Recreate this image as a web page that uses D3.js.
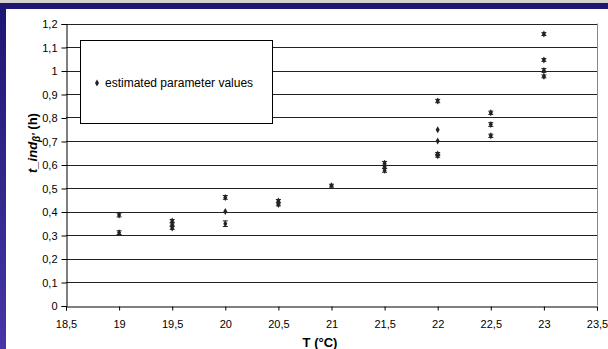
<!DOCTYPE html>
<html>
<head>
<meta charset="utf-8">
<script src="https://cdn.jsdelivr.net/npm/d3@7"></script>
<style>
  html, body { margin: 0; padding: 0; background: #fff; }
  svg { display: block; font-family: "Liberation Sans", Arial, sans-serif; }
</style>
</head>
<body>
<svg id="chart" width="608" height="349"></svg>
<script>
// temperatures (°C) of each estimate
var temps = [19, 19, 19.5, 19.5, 19.5, 20, 20, 20, 20.5, 20.5, 21,
  21.5, 21.5, 21.5, 22, 22, 22, 22, 22, 22.5, 22.5, 22.5, 23, 23, 23, 23];
// estimated t_ind values (h)
var estimates = [0.385, 0.31, 0.36, 0.345, 0.33, 0.46, 0.40, 0.348, 0.445, 0.43, 0.51,
  0.605, 0.59, 0.575, 0.87, 0.748, 0.70, 0.645, 0.637, 0.82, 0.77, 0.722, 1.155, 1.045, 1.0, 0.975];
// half width of the error bars
var errors = [0.008, 0.008, 0.006, 0.006, 0.006, 0.008, 0, 0.012, 0.006, 0.006, 0.006,
  0.008, 0.006, 0.008, 0.007, 0, 0, 0.006, 0.006, 0.007, 0.008, 0.007, 0.006, 0.006, 0.008, 0.006];

var xTicks = [18.5, 19, 19.5, 20, 20.5, 21, 21.5, 22, 22.5, 23, 23.5];
var yTicks = [0, 0.1, 0.2, 0.3, 0.4, 0.5, 0.6, 0.7, 0.8, 0.9, 1, 1.1, 1.2];

var svg = d3.select("#chart");
var comma = function (v) { return String(v).replace(".", ","); };

// slide frame: grey strip, blue bar and left blue edge
var defs = svg.append("defs");
var grad = defs.append("linearGradient").attr("id", "blue").attr("x1", 0).attr("y1", 0).attr("x2", 0).attr("y2", 1);
grad.append("stop").attr("offset", "0%").attr("stop-color", "#1d1672");
grad.append("stop").attr("offset", "100%").attr("stop-color", "#4636a6");
svg.append("rect").attr("x", 0).attr("y", 0).attr("width", 608).attr("height", 349).attr("fill", "url(#blue)");
svg.append("rect").attr("x", 0).attr("y", 0).attr("width", 608).attr("height", 3).attr("fill", "#d6d3ce");
svg.append("rect").attr("x", 6).attr("y", 9).attr("width", 602).attr("height", 340).attr("fill", "#fff");

var x = d3.scaleLinear().domain([18.5, 23.5]).range([66, 597]);
var y = d3.scaleLinear().domain([0, 1.2]).range([305.5, 23.5]);

// grid
svg.append("g")
  .selectAll("line")
  .data(yTicks.slice(1))
  .enter()
  .append("line")
  .attr("x1", x(18.5)).attr("x2", x(23.5))
  .attr("y1", function (d) { return Math.round(y(d)) + 0.5; })
  .attr("y2", function (d) { return Math.round(y(d)) + 0.5; })
  .attr("stroke", "#222")
  .attr("stroke-width", 1);

// right border of plot area
svg.append("line")
  .attr("x1", x(23.5) + 0.5).attr("x2", x(23.5) + 0.5)
  .attr("y1", y(1.2)).attr("y2", y(0))
  .attr("stroke", "#888");

// axes
var yAxis = d3.axisLeft(y).tickValues(yTicks).tickFormat(comma).tickSize(5).tickPadding(4);
var gy = svg.append("g").attr("transform", "translate(" + (x(18.5) + 0.5) + ",0.5)").call(yAxis);
var xAxis = d3.axisBottom(x).tickValues(xTicks).tickFormat(comma).tickSize(4).tickPadding(10);
var gx = svg.append("g").attr("transform", "translate(0," + (Math.round(y(0)) + 0.5) + ")").call(xAxis);
[gx, gy].forEach(function (g) {
  g.select(".domain").attr("stroke", "#000");
  g.selectAll(".tick line").attr("stroke", "#000");
  g.selectAll("text").attr("font-size", 11).attr("fill", "#000")
    .attr("font-family", "Liberation Sans, Arial, sans-serif");
});

// error bars
var bars = svg.append("g").attr("stroke", "#222").attr("stroke-width", 1);
temps.forEach(function (t, i) {
  if (!errors[i]) return;
  var cx = x(t), lo = y(estimates[i] - errors[i]), hi = y(estimates[i] + errors[i]);
  bars.append("line").attr("x1", cx).attr("x2", cx).attr("y1", lo).attr("y2", hi);
  bars.append("line").attr("x1", cx - 2.5).attr("x2", cx + 2.5).attr("y1", lo).attr("y2", lo);
  bars.append("line").attr("x1", cx - 2.5).attr("x2", cx + 2.5).attr("y1", hi).attr("y2", hi);
});

// points (diamond markers)
var diamond = d3.symbol().type(d3.symbolDiamond).size(14);
svg.append("g")
  .selectAll("path")
  .data(temps)
  .enter()
  .append("path")
  .attr("d", diamond)
  .attr("transform", function (t, i) { return "translate(" + x(t) + "," + y(estimates[i]) + ")"; })
  .attr("fill", "#222");

// legend
svg.append("rect")
  .attr("x", 80.5).attr("y", 40.5).attr("width", 192).attr("height", 83)
  .attr("fill", "#fff").attr("stroke", "#000");
svg.append("path").attr("d", diamond).attr("transform", "translate(97,83)").attr("fill", "#222");
svg.append("text").attr("x", 105).attr("y", 87).attr("font-size", 12).text("estimated parameter values");

// axis titles
svg.append("text")
  .attr("x", 320).attr("y", 347)
  .attr("text-anchor", "middle").attr("font-size", 13).attr("font-weight", "bold")
  .text("T (°C)");

var yt = svg.append("text")
  .attr("transform", "translate(37,143) rotate(-90)")
  .attr("text-anchor", "middle").attr("font-size", 13).attr("font-weight", "bold");
yt.append("tspan").attr("font-style", "italic").text("t_ind");
yt.append("tspan").attr("font-style", "italic").attr("font-size", 10).attr("dy", 3).text("β'");
yt.append("tspan").attr("dy", -3).text(" (h)");
</script>
</body>
</html>
